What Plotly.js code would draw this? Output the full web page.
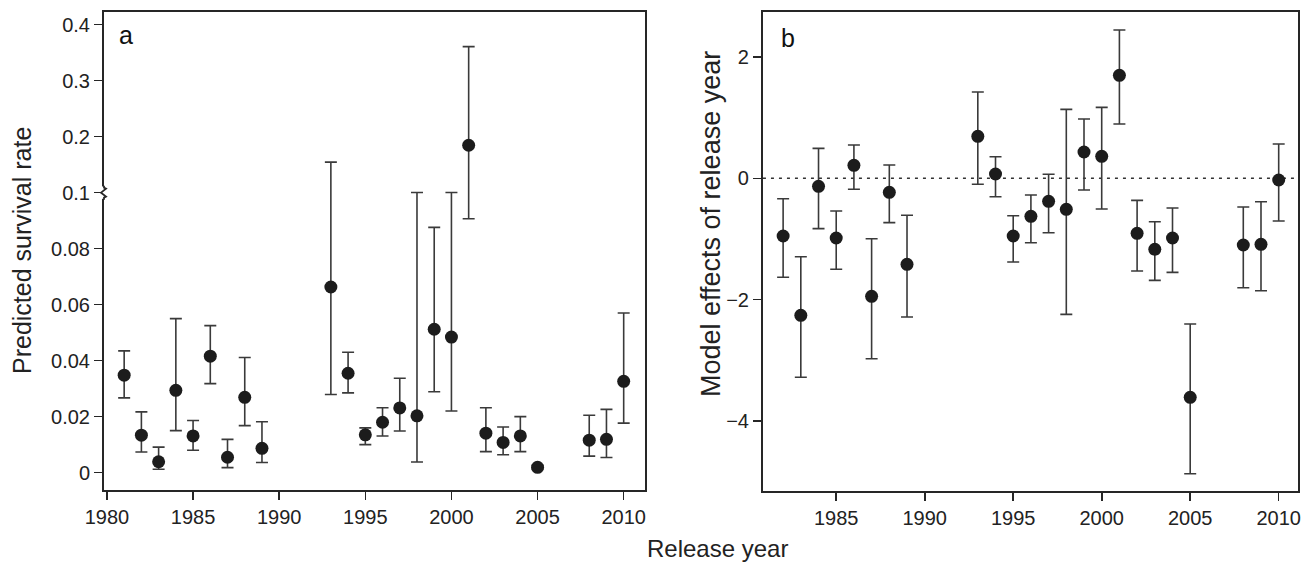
<!DOCTYPE html>
<html>
<head>
<meta charset="utf-8">
<script src="https://cdn.plot.ly/plotly-3.0.1.min.js"></script>
<style>html,body{margin:0;padding:0;background:#fff;}#chart{width:1310px;height:562px;}</style>
</head>
<body>
<div id="chart"></div>
<script>
// ---- Panel a: predicted survival rate ----
const yearsA = [1981,1982,1983,1984,1985,1986,1987,1988,1989,1993,1994,1995,1996,1997,1998,1999,2000,2001,2002,2003,2004,2005,2008,2009,2010];
const survival = [0.0348,0.0134,0.0039,0.0294,0.0131,0.0416,0.0055,0.0269,0.0087,0.0663,0.0355,0.0135,0.0180,0.0231,0.0203,0.0512,0.0484,0.1846,0.0141,0.0108,0.0131,0.0019,0.0116,0.0119,0.0326];
const survivalUpper = [0.0435,0.0217,0.0091,0.0550,0.0186,0.0525,0.0119,0.0411,0.0182,0.1544,0.0430,0.0160,0.0232,0.0337,0.1003,0.0876,0.1002,0.3607,0.0232,0.0163,0.0200,0.0026,0.0205,0.0226,0.0570];
const survivalLower = [0.0267,0.0074,0.0012,0.0150,0.0080,0.0318,0.0018,0.0168,0.0036,0.0279,0.0285,0.0100,0.0131,0.0149,0.0038,0.0289,0.0220,0.0907,0.0075,0.0064,0.0075,0.0013,0.0059,0.0054,0.0177];
const tickValsA = [0,0.02,0.04,0.06,0.08,0.1,0.2,0.3,0.4];
const tickTextA = ["0","0.02","0.04","0.06","0.08","0.1","0.2","0.3","0.4"];

// ---- Panel b: model effects of release year ----
const yearsB = [1982,1983,1984,1985,1986,1987,1988,1989,1993,1994,1995,1996,1997,1998,1999,2000,2001,2002,2003,2004,2005,2008,2009,2010];
const effect = [-0.951,-2.258,-0.132,-0.984,0.214,-1.945,-0.231,-1.418,0.692,0.071,-0.951,-0.626,-0.379,-0.511,0.434,0.363,1.698,-0.907,-1.170,-0.984,-3.610,-1.099,-1.088,-0.028];
const effectUpper = [-0.336,-1.292,0.494,-0.539,0.549,-0.995,0.219,-0.610,1.422,0.356,-0.616,-0.275,0.066,1.137,0.977,1.170,2.444,-0.363,-0.715,-0.490,-2.402,-0.473,-0.386,0.565];
const effectLower = [-1.632,-3.280,-0.830,-1.500,-0.181,-2.973,-0.731,-2.286,-0.099,-0.303,-1.380,-1.061,-0.897,-2.242,-0.193,-0.506,0.895,-1.528,-1.682,-1.550,-4.869,-1.803,-1.853,-0.704];

// broken axis: above 0.1 the scale is compressed 5x
const BREAK = 0.1, COMP = 0.2;
function brk(v){ return v <= BREAK ? v : BREAK + (v - BREAK) * COMP; }

const yA = survival.map(brk);
const errA_plus = survivalUpper.map((u,i)=>brk(u)-yA[i]);
const errA_minus = survivalLower.map((l,i)=>yA[i]-brk(l));
const errB_plus = effectUpper.map((u,i)=>u-effect[i]);
const errB_minus = effectLower.map((l,i)=>effect[i]-l);

const FONT = "Liberation Sans, Arial, Helvetica, sans-serif";
const ink = "#1c1c1c";
const errStyle = {type:'data', symmetric:false, color:'#3a3a3a', thickness:1.6, width:6};

const traces = [
  {x: yearsA, y: yA, type:'scatter', mode:'markers', xaxis:'x', yaxis:'y',
   marker:{size:13, color:ink}, error_y: Object.assign({array: errA_plus, arrayminus: errA_minus}, errStyle),
   customdata: survival, hovertemplate:'%{x}: %{customdata}<extra></extra>'},
  {x: yearsB, y: effect, type:'scatter', mode:'markers', xaxis:'x2', yaxis:'y2',
   marker:{size:13, color:ink}, error_y: Object.assign({array: errB_plus, arrayminus: errB_minus}, errStyle)}
];

const axisCommon = {showline:true, mirror:true, linecolor:'#262626', linewidth:2, ticks:'outside', ticklen:8, tickwidth:1.6,
  tickcolor:'#262626', showgrid:false, zeroline:false, tickfont:{family:FONT, size:20, color:'#222'}};

const layout = {
  width:1310, height:562, margin:{l:0,r:0,t:0,b:0}, paper_bgcolor:'#fff', plot_bgcolor:'#fff', showlegend:false,
  font:{family:FONT, color:'#222'},
  xaxis: Object.assign({}, axisCommon, {domain:[0.0794,0.4924], range:[1979.83,2011.24], tickvals:[1980,1985,1990,1995,2000,2005,2010]}),
  yaxis: Object.assign({}, axisCommon, {domain:[0.1281,0.9786], range:[-0.0062,0.1645], tickvals: tickValsA.map(brk), ticktext: tickTextA}),
  xaxis2: Object.assign({}, axisCommon, {domain:[0.5824,0.9911], range:[1980.86,2011.11], tickvals:[1985,1990,1995,2000,2005,2010], anchor:'y2'}),
  yaxis2: Object.assign({}, axisCommon, {domain:[0.1269,0.9786], range:[-5.149,2.741], tickvals:[-4,-2,0,2], ticktext:['\u22124','\u22122','0','2'], anchor:'x2'}),
  shapes: [
    {type:'line', xref:'x2 domain', yref:'y2', x0:0, x1:1, y0:0, y1:0, line:{color:'#333', width:1.5, dash:'3px,5px'}, layer:'below'},
    // white gap over left axis line at the break
    {type:'line', xref:'x domain', yref:'y', x0:0, x1:0, y0:BREAK-0.0022, y1:BREAK+0.0022, line:{color:'#fff', width:5}, layer:'above'},
    // zigzag break mark
    {type:'path', xref:'x domain', yref:'y', xsizemode:'pixel', ysizemode:'pixel', xanchor:0, yanchor:BREAK,
     path:'M 0 7 L 0 5 L 2 4 L -3 0 L 2 -4 L 0 -5 L 0 -7', line:{color:'#262626', width:1.8}, layer:'above'}
  ],
  annotations: [
    {text:'a', xref:'paper', yref:'paper', x:126/1310, y:1-35/562, showarrow:false, font:{family:FONT, size:25, color:'#111'}, xanchor:'center', yanchor:'middle'},
    {text:'b', xref:'paper', yref:'paper', x:788/1310, y:1-38/562, showarrow:false, font:{family:FONT, size:25, color:'#111'}, xanchor:'center', yanchor:'middle'},
    {text:'Predicted survival rate', xref:'paper', yref:'paper', x:22/1310, y:1-251/562, textangle:-90, showarrow:false, font:{family:FONT, size:25, color:'#222'}, xanchor:'center', yanchor:'middle'},
    {text:'Model effects of release year', xref:'paper', yref:'paper', x:711/1310, y:1-224/562, textangle:-90, showarrow:false, font:{family:FONT, size:27, color:'#222'}, xanchor:'center', yanchor:'middle'},
    {text:'Release year', xref:'paper', yref:'paper', x:717/1310, y:1-548/562, showarrow:false, font:{family:FONT, size:24, color:'#222'}, xanchor:'center', yanchor:'middle'}
  ]
};

Plotly.newPlot('chart', traces, layout, {displayModeBar:false, staticPlot:true});
</script>
</body>
</html>
